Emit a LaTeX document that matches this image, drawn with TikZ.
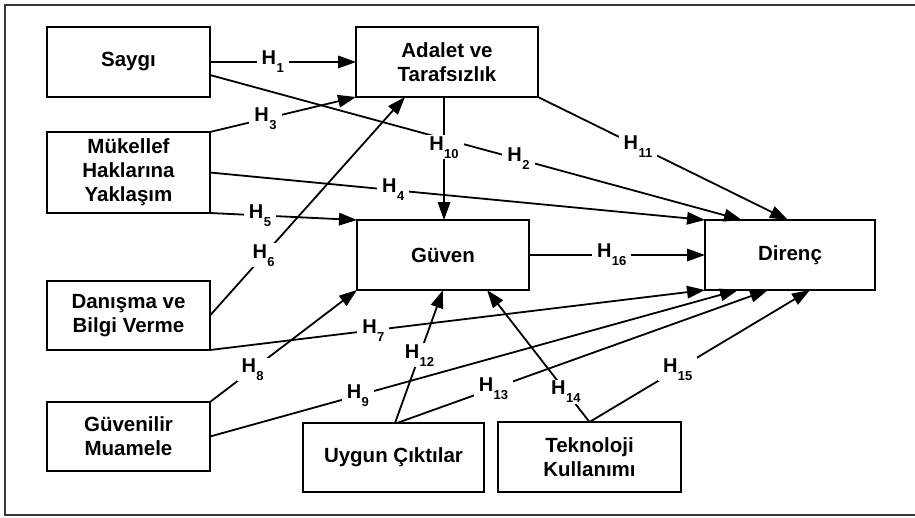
\documentclass[tikz,border=0pt]{standalone}
\usepackage{fontspec}
\setmainfont{Liberation Sans}
\usetikzlibrary{arrows.meta}
\newcommand\hlab[1]{H\kern0.5pt\raisebox{-8pt}{\fontsize{13}{13}\selectfont #1}}
\tikzset{
  box/.style={draw, line width=2pt, inner sep=0pt, outer sep=0pt, align=center,
    font=\fontsize{20.5}{24}\selectfont\bfseries},
  conn/.style={line width=1.8pt, -{Triangle[length=18pt,width=12.5pt]}},
  lab/.style={fill=white, inner xsep=5pt, inner ysep=1pt, font=\fontsize{20}{20}\selectfont\bfseries}
}
\begin{document}
\begin{tikzpicture}[x=1pt,y=-1pt]
\useasboundingbox (0,0) rectangle (915,517);
\draw[line width=2pt, draw=black!78] (5,5) rectangle (920,515);

\node[box, minimum width=163pt, minimum height=70pt] (saygi) at (128.5,62) {Saygı};
\node[box, minimum width=182pt, minimum height=70pt] (adalet) at (447,62) {Adalet ve\\Tarafsızlık};
\node[box, minimum width=163pt, minimum height=81pt] (mukellef) at (128.5,172.5) {Mükellef\\Haklarına\\Yaklaşım};
\node[box, minimum width=172pt, minimum height=70pt] (guven) at (443,255) {Güven};
\node[box, minimum width=170pt, minimum height=70pt] (direnc) at (790,255) {Direnç};
\node[box, minimum width=163pt, minimum height=69pt] (danisma) at (128.5,315.5) {Danışma ve\\Bilgi Verme};
\node[box, minimum width=163pt, minimum height=69pt] (guvenilir) at (128.5,436.5) {Güvenilir\\Muamele};
\node[box, minimum width=181pt, minimum height=69pt] (uygun) at (393.5,457.5) {Uygun Çıktılar};
\node[box, minimum width=183pt, minimum height=70pt] (teknoloji) at (589.5,457) {Teknoloji\\Kullanımı};

% connectors
\draw[conn] (saygi.east) -- node[lab, pos=0.43] {\hlab{1}} (adalet.west);
\draw[conn] ([yshift=-13pt]saygi.east) -- node[lab, pos=0.58] {\hlab{2}} ([xshift=-48pt]direnc.north);
\draw[conn] (mukellef.north east) -- node[lab, pos=0.38] {\hlab{3}} (adalet.south west);
\draw[conn] (mukellef.east) -- node[lab, pos=0.37] {\hlab{4}} (direnc.north west);
\draw[conn] (mukellef.south east) -- node[lab, pos=0.34] {\hlab{5}} (guven.north west);
\draw[conn] (danisma.east) -- node[lab, pos=0.275] {\hlab{6}} ([xshift=-42pt]adalet.south);
\draw[conn] (danisma.south east) -- node[lab, pos=0.33] {\hlab{7}} (direnc.south west);
\draw[conn] (guvenilir.north east) -- node[lab, pos=0.29] {\hlab{8}} (guven.south west);
\draw[conn] (guvenilir.east) -- node[lab, pos=0.28] {\hlab{9}} ([xshift=-52pt]direnc.south);
\draw[conn] ([xshift=-3pt]adalet.south) -- node[lab, pos=0.41] {\hlab{10}} ([xshift=1pt]guven.north);
\draw[conn] (adalet.south east) -- node[lab, pos=0.40] {\hlab{11}} ([xshift=-2pt]direnc.north);
\draw[conn] ([xshift=1.5pt]uygun.north) -- node[lab, pos=0.51] {\hlab{12}} (guven.south);
\draw[conn] ([xshift=3.5pt]uygun.north) -- node[lab, pos=0.26] {\hlab{13}} ([xshift=-22pt]direnc.south);
\draw[conn] (teknoloji.north) -- node[lab, pos=0.23] {\hlab{14}} ([xshift=44pt]guven.south);
\draw[conn] (teknoloji.north) -- node[lab, pos=0.40] {\hlab{15}} ([xshift=20pt]direnc.south);
\draw[conn] (guven.east) -- node[lab, pos=0.47] {\hlab{16}} (direnc.west);
\end{tikzpicture}
\end{document}
